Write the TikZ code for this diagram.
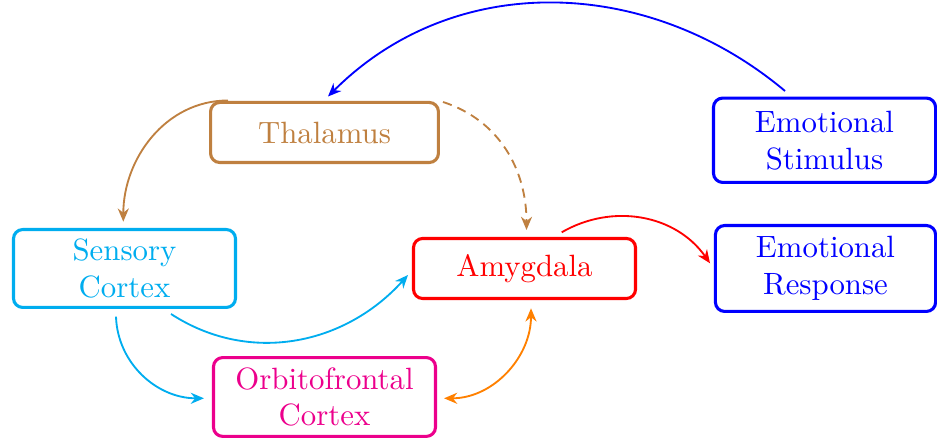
\documentclass[tikz,border=0pt]{standalone}
\usetikzlibrary{arrows.meta,calc}
\begin{document}
\begin{tikzpicture}[x=0.3247pt,y=0.3247pt,
  box/.style={draw, line width=1pt, rounded corners=3pt, align=center,
              inner sep=0pt, outer sep=0pt},
  tip/.style={Stealth[length=4.3pt,width=3.6pt,inset=1.4pt]},
  link/.style={semithick, -{Stealth[length=4.3pt,width=3.6pt,inset=1.4pt]}},
  both/.style={semithick, {Stealth[length=4.3pt,width=3.6pt,inset=1.4pt]}-{Stealth[length=4.3pt,width=3.6pt,inset=1.4pt]}}
  ]
\useasboundingbox (0,0) rectangle (937,-445);

% regions
\node[box, brown, minimum width=74pt, minimum height=19.5pt] (thal) at (324.5,-132.5) {Thalamus};
\node[box, cyan, minimum width=72.1pt, minimum height=25.3pt] (sens) at (124.5,-268.5) {Sensory\\Cortex};
\node[box, red, minimum width=72.1pt, minimum height=19.5pt] (amy) at (524.5,-268.5) {Amygdala};
\node[box, magenta, minimum width=72.1pt, minimum height=25.6pt] (orb) at (324.5,-397) {Orbitofrontal\\Cortex};
\node[box, blue, minimum width=72.1pt, minimum height=27.4pt] (stim) at (824.5,-140.25) {Emotional\\Stimulus};
\node[box, blue, minimum width=71.5pt, minimum height=27.9pt] (resp) at (825.5,-268.5) {Emotional\\Response};

% pathways
\draw[link, blue] ($(stim)+(-39.5,49.25)$) to[out=140, in=45] ($(thal)+(3.5,36)$);
\draw[link, brown] ($(thal)+(-96.5,32)$) to[out=180, in=90] ($(sens)+(-1.2,46.8)$);
\draw[link, brown, dash pattern=on 3pt off 2pt] ($(thal)+(118.5,30.5)$) to[out=-18, in=90] ($(amy)+(2,38.5)$);
\draw[link, cyan] ($(sens)+(46.5,-45.5)$) to[out=-33, in=228] ($(amy)+(-116.5,-6.5)$);
\draw[link, cyan] ($(sens)+(-8.5,-48.2)$) to[out=-88, in=180] ($(orb)+(-120.5,-1.3)$);
\draw[both, orange] ($(amy)+(6.5,-39.8)$) to[out=-90, in=0] ($(orb)+(119.5,-1.3)$);
\draw[link, red] ($(amy)+(37.2,36.2)$) to[out=30, in=125] ($(resp)+(-115.5,5.2)$);
\end{tikzpicture}
\end{document}
